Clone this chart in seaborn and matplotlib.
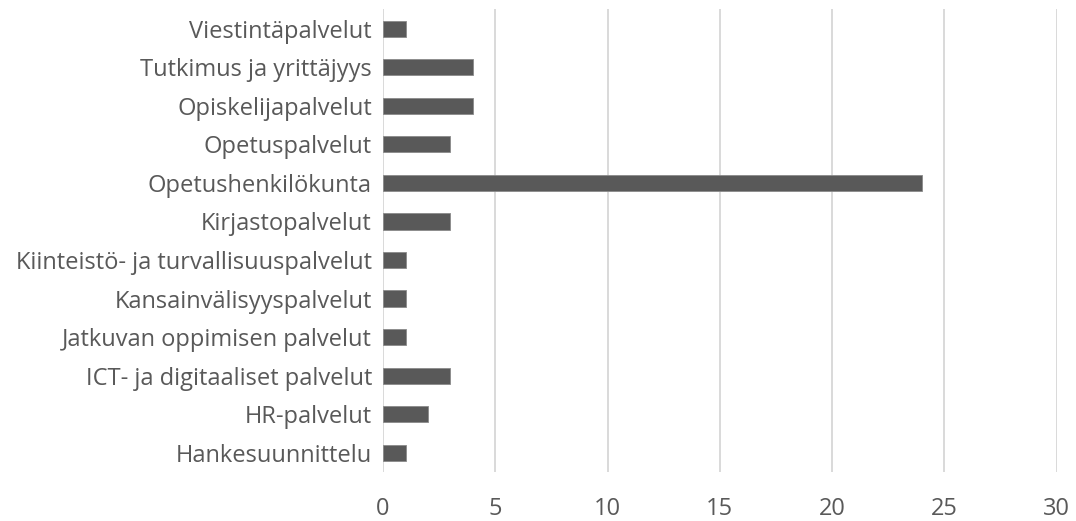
import matplotlib
matplotlib.use("Agg")
import matplotlib.pyplot as plt
import seaborn as sns
import pandas as pd

categories = [
    "Viestintäpalvelut",
    "Tutkimus ja yrittäjyys",
    "Opiskelijapalvelut",
    "Opetuspalvelut",
    "Opetushenkilökunta",
    "Kirjastopalvelut",
    "Kiinteistö- ja turvallisuuspalvelut",
    "Kansainvälisyyspalvelut",
    "Jatkuvan oppimisen palvelut",
    "ICT- ja digitaaliset palvelut",
    "HR-palvelut",
    "Hankesuunnittelu",
]
values = [1, 4, 4, 3, 24, 3, 1, 1, 1, 3, 2, 1]
x_ticks = [0, 5, 10, 15, 20, 25, 30]

df = pd.DataFrame({"category": categories, "value": values})

sns.set_theme(style="white")
plt.rcParams["font.family"] = ["Open Sans", "DejaVu Sans"]

fig = plt.figure(figsize=(10.76, 5.21), dpi=100)
ax = fig.add_axes([0.356, 0.094, 0.626, 0.888])

sns.barplot(data=df, x="value", y="category", orient="h", color="#595959",
            width=0.42, saturation=1, ax=ax, edgecolor="#8a8a8a", linewidth=0.6)

ax.set_xlim(0, 30)
ax.set_xticks(x_ticks)
ax.set_xticklabels([str(t) for t in x_ticks])
ax.set_xlabel("")
ax.set_ylabel("")
ax.xaxis.grid(True, color="#d9d9d9", linewidth=1.4)
ax.yaxis.grid(False)
ax.set_axisbelow(True)
for s in ax.spines.values():
    s.set_visible(False)
ax.tick_params(axis="both", length=0, labelsize=17, labelcolor="#595959")
ax.tick_params(axis="y", pad=8)
ax.tick_params(axis="x", pad=18)

fig.savefig("out.png", dpi=100, facecolor="white")
